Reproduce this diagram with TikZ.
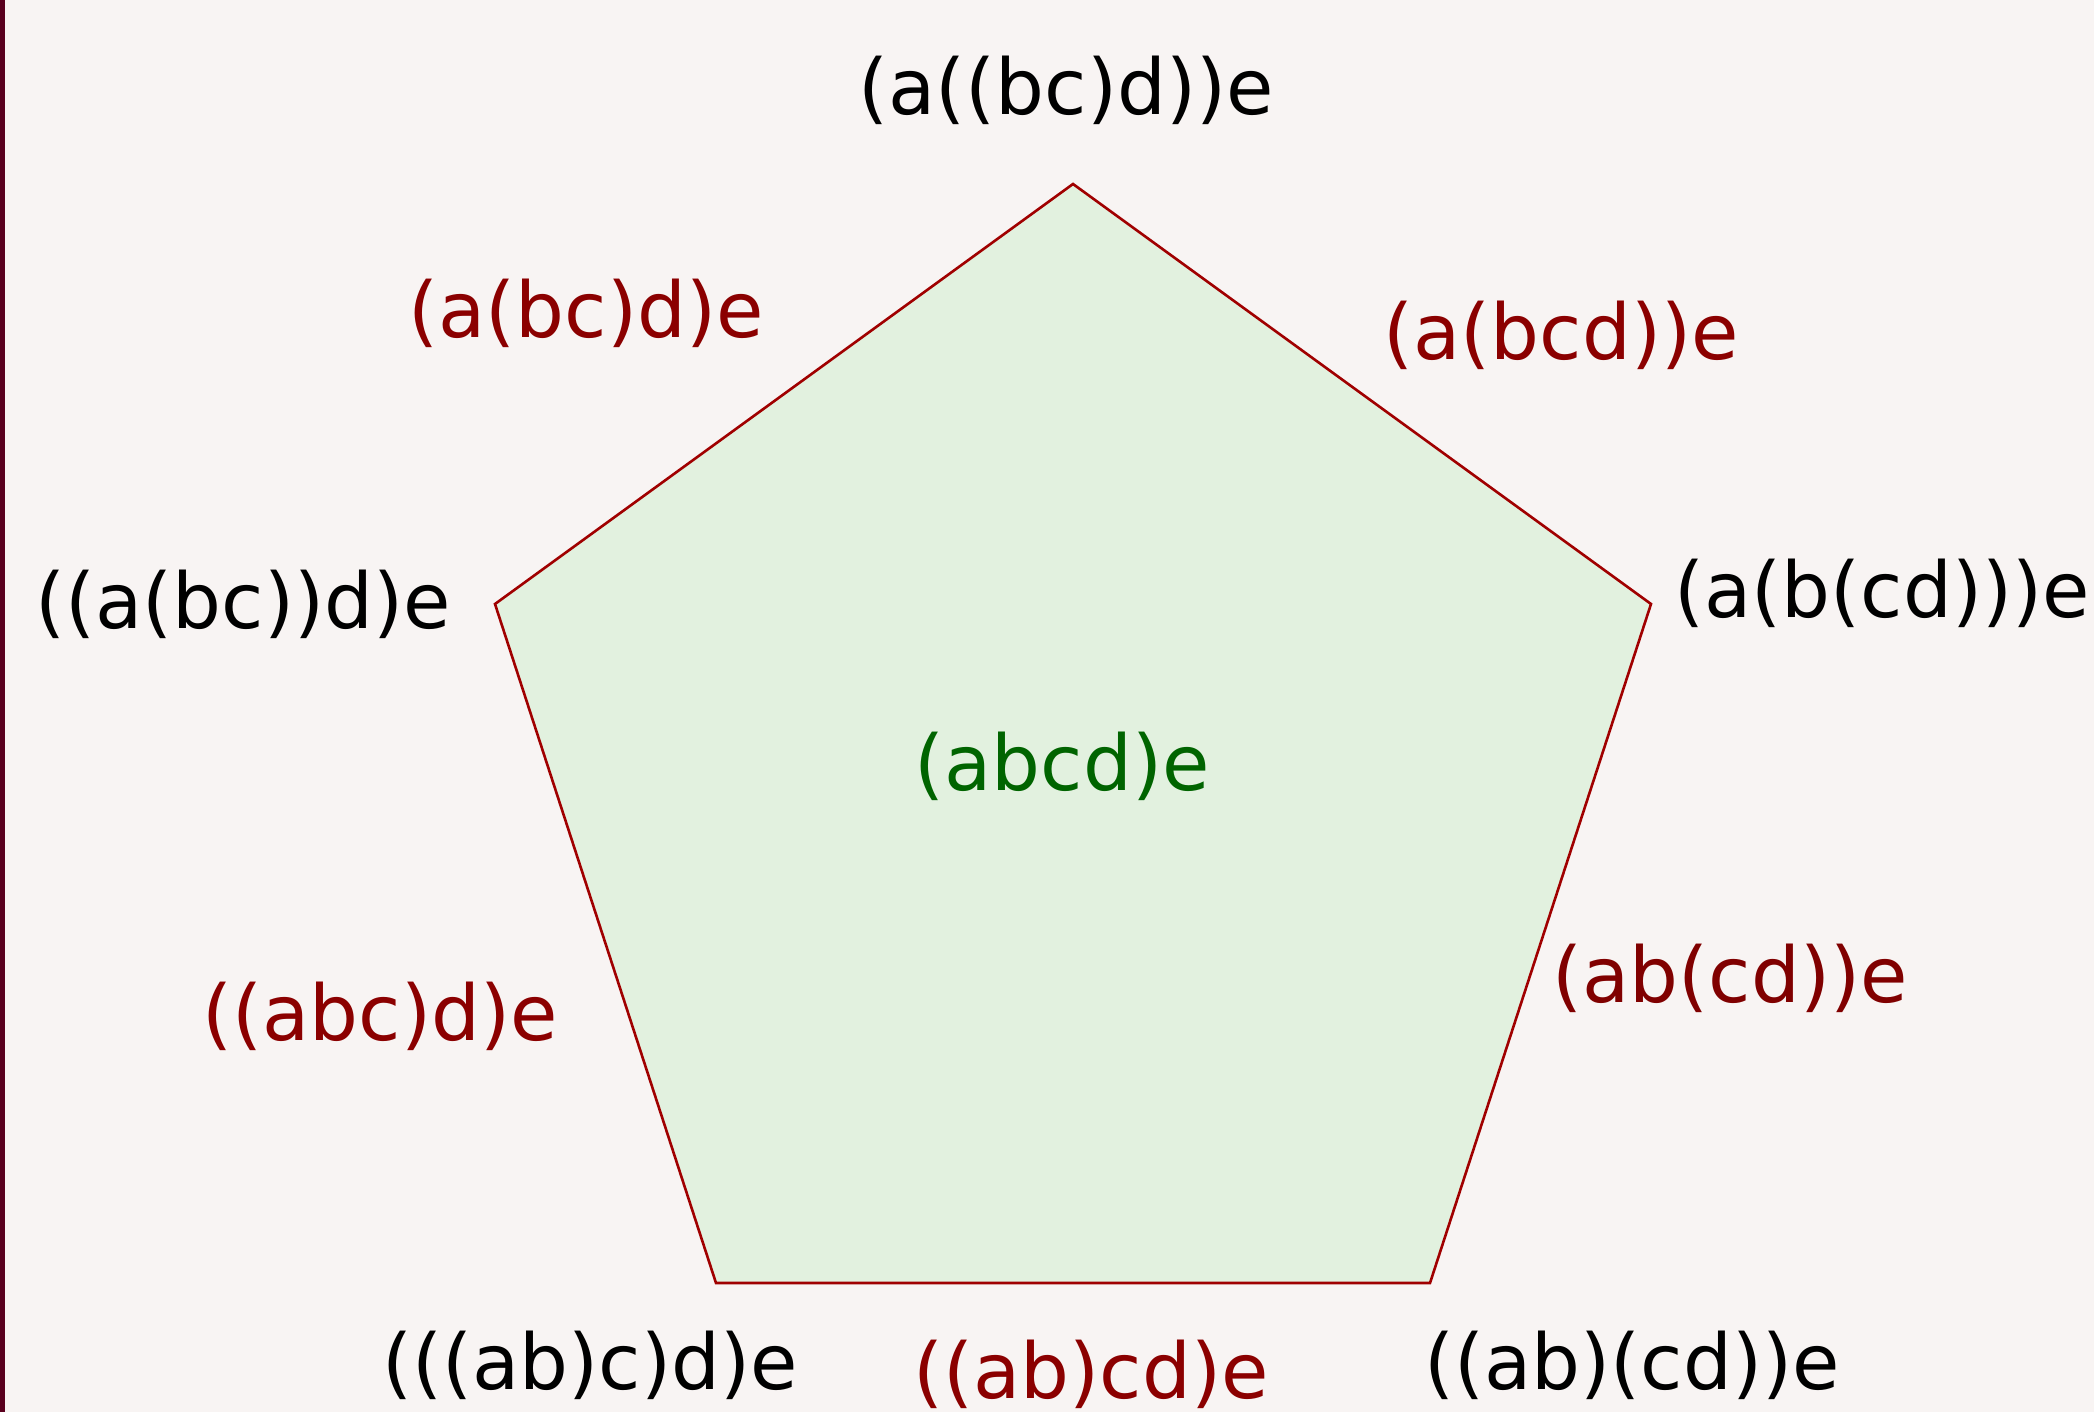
\documentclass[tikz,border=0pt]{standalone}
\usepackage{fontspec}
\setmainfont{DejaVu Sans}
\definecolor{bgc}{HTML}{F8F4F3}
\definecolor{fillc}{HTML}{E2F1DF}
\definecolor{edgec}{HTML}{A00000}
\definecolor{redt}{HTML}{8B0000}
\definecolor{maroont}{HTML}{800000}
\definecolor{greent}{HTML}{006400}
\definecolor{borderc}{HTML}{5A001E}
\tikzset{
  lbl/.style={anchor=base, inner sep=0pt, font=\fontsize{38.5}{46}\selectfont},
  vlbl/.style={lbl, text=black},
  elbl/.style={lbl, text=redt},
  flbl/.style={lbl, text=greent},
  penta/.style={draw=edgec, fill=fillc, line width=1.3pt, line join=miter}
}
\begin{document}
\begin{tikzpicture}[x=0.5pt,y=-0.5pt]
\fill[bgc] (0,0) rectangle (2094,1412);
\useasboundingbox (0,0) rectangle (2094,1412);
\fill[borderc] (0,0) rectangle (4.5,1412);
% vertices
\coordinate (v1) at (1073,184);
\coordinate (v2) at (1651,604);
\coordinate (v3) at (1430,1283);
\coordinate (v4) at (716,1283);
\coordinate (v5) at (495,604);
\draw[penta] (v1) -- (v2) -- (v3) -- (v4) -- (v5) -- cycle;
% vertex labels
\node[vlbl] (t1) at (1066,115) {(a((bc)d))e};
\node[vlbl] (t2) at (1882,617) {(a(b(cd)))e};
\node[vlbl] (t3) at (1632,1389) {((ab)(cd))e};
\node[vlbl] (t4) at (590,1389) {(((ab)c)d)e};
\node[vlbl] (t5) at (243,628) {((a(bc))d)e};
% edge labels
\node[elbl] (e12) at (1561,359) {(a(bcd))e};
\node[elbl, text=maroont] (e23) at (1730,1002) {(ab(cd))e};
\node[elbl] (e34) at (1091,1398) {((ab)cd)e};
\node[elbl] (e45) at (380,1040) {((abc)d)e};
\node[elbl] (e51) at (586,337) {(a(bc)d)e};
% face label
\node[flbl] (f) at (1062,790) {(abcd)e};
\end{tikzpicture}
\end{document}
